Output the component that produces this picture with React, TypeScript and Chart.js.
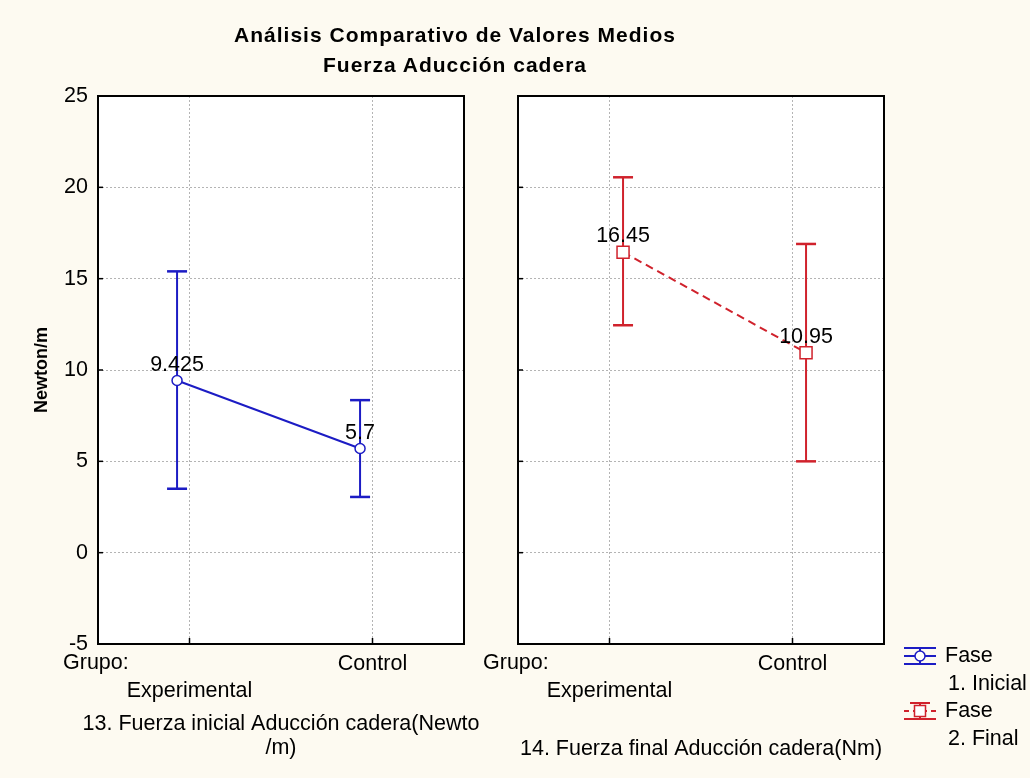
import React, { useEffect, useRef } from 'react';
import { Chart, registerables } from 'chart.js';

Chart.register(...registerables);

const FONT = '"Liberation Sans", Arial, Helvetica, sans-serif';
const FS = 21.5;
const BG = '#fdfaf1';
const BLUE = '#1c1cc4';
const RED = '#d0222c';
const GRID = '#b4b4b4';

const TITLE_LINES = ['Análisis Comparativo de Valores Medios', 'Fuerza Aducción cadera'];
const Y_TITLE = 'Newton/m';
const GROUP_PREFIX = 'Grupo:';
const GROUPS = ['Experimental', 'Control'];
const Y_TICKS = [-5, 0, 5, 10, 15, 20, 25];

const INICIAL_MEAN = [9.425, 5.7];
const INICIAL_LOW = [3.5, 3.05];
const INICIAL_HIGH = [15.4, 8.35];

const FINAL_MEAN = [16.45, 10.95];
const FINAL_LOW = [12.45, 5.0];
const FINAL_HIGH = [20.55, 16.9];

const PANEL_TITLES = [
  ['13. Fuerza inicial Aducción cadera(Newto', '/m)'],
  ['14. Fuerza final Aducción cadera(Nm)'],
];
const LEGEND_LABELS = [
  ['Fase', '1. Inicial'],
  ['Fase', '2. Final'],
];

type Panel = {
  mean: number[];
  low: number[];
  high: number[];
  color: string;
  dash: number[];
  pointStyle: string;
  pointRadius: number;
  offset: number;
  title: string[];
  showY: boolean;
  yWidth: number;
  padRight: number;
  legend: boolean;
};

const PANELS: Panel[] = [
  {
    mean: INICIAL_MEAN, low: INICIAL_LOW, high: INICIAL_HIGH, color: BLUE, dash: [],
    pointStyle: 'circle', pointRadius: 5, offset: -0.068, title: PANEL_TITLES[0],
    showY: true, yWidth: 98, padRight: 16, legend: false,
  },
  {
    mean: FINAL_MEAN, low: FINAL_LOW, high: FINAL_HIGH, color: RED, dash: [8, 5],
    pointStyle: 'rect', pointRadius: 8.5, offset: 0.074, title: PANEL_TITLES[1],
    showY: false, yWidth: 38, padRight: 146, legend: true,
  },
];

function line(ctx: CanvasRenderingContext2D, x1: number, y1: number, x2: number, y2: number) {
  ctx.beginPath();
  ctx.moveTo(x1, y1);
  ctx.lineTo(x2, y2);
  ctx.stroke();
}

function drawLegendIcon(ctx: CanvasRenderingContext2D, cx: number, cy: number, color: string, dash: number[], marker: string, topCap: number) {
  ctx.save();
  ctx.strokeStyle = color;
  ctx.lineWidth = 2;
  ctx.setLineDash([]);
  line(ctx, cx - topCap, cy - 8, cx + topCap, cy - 8);
  line(ctx, cx - 16, cy + 8, cx + 16, cy + 8);
  line(ctx, cx, cy - 8, cx, cy + 8);
  ctx.setLineDash(dash.length ? [5, 4] : []);
  line(ctx, cx - 16, cy, cx + 16, cy);
  ctx.setLineDash([]);
  ctx.fillStyle = '#fff';
  ctx.lineWidth = 1.5;
  ctx.beginPath();
  if (marker === 'circle') ctx.arc(cx, cy, 5, 0, Math.PI * 2);
  else ctx.rect(cx - 5.5, cy - 5.5, 11, 11);
  ctx.fill();
  ctx.stroke();
  ctx.restore();
}

function makeChart(canvas: HTMLCanvasElement, p: Panel) {
  const data = GROUPS.map((_, i) => ({ x: i + p.offset, y: p.mean[i] }));

  const decor = {
    id: 'panelDecor',
    beforeDraw(chart: any) {
      const { ctx, chartArea: a } = chart;
      ctx.save();
      ctx.fillStyle = '#ffffff';
      ctx.fillRect(a.left, a.top, a.right - a.left, a.bottom - a.top);
      ctx.restore();
    },
    beforeDatasetsDraw(chart: any) {
      const { ctx, scales } = chart;
      ctx.save();
      ctx.strokeStyle = p.color;
      ctx.setLineDash([]);
      data.forEach((d, i) => {
        const x = scales.x.getPixelForValue(d.x);
        const yl = scales.y.getPixelForValue(p.low[i]);
        const yh = scales.y.getPixelForValue(p.high[i]);
        ctx.lineWidth = 2;
        line(ctx, x, yl, x, yh);
        ctx.lineWidth = 2.5;
        line(ctx, x - 10, yl, x + 10, yl);
        line(ctx, x - 10, yh, x + 10, yh);
      });
      ctx.restore();
    },
    afterDraw(chart: any) {
      const { ctx, chartArea: a, scales } = chart;
      const xs = scales.x;
      const ys = scales.y;
      ctx.save();
      ctx.setLineDash([]);
      ctx.strokeStyle = '#000';
      ctx.lineWidth = 2;
      ctx.strokeRect(a.left, a.top, a.right - a.left, a.bottom - a.top);
      ctx.lineWidth = 1.5;
      ys.ticks.forEach((t: any) => {
        const y = ys.getPixelForValue(t.value);
        line(ctx, a.left, y, a.left + 5, y);
      });
      xs.ticks.forEach((t: any) => {
        const x = xs.getPixelForValue(t.value);
        line(ctx, x, a.bottom, x, a.bottom - 6);
      });

      // value labels
      ctx.fillStyle = '#000';
      ctx.font = `${FS}px ${FONT}`;
      ctx.textAlign = 'center';
      ctx.textBaseline = 'alphabetic';
      data.forEach((d, i) => {
        const x = xs.getPixelForValue(d.x);
        const y = ys.getPixelForValue(d.y);
        ctx.fillText(String(p.mean[i]), x, y - 10);
      });

      // "Grupo:" prefix
      ctx.textAlign = 'left';
      ctx.textBaseline = 'middle';
      ctx.fillText(GROUP_PREFIX, a.left - 35, a.bottom + 6 + 13.5);

      // panel title
      ctx.textAlign = 'center';
      const cx = (a.left + a.right) / 2;
      if (p.title.length > 1) {
        p.title.forEach((t, k) => ctx.fillText(t, cx, a.bottom + 80 + k * 24));
      } else {
        ctx.fillText(p.title[0], cx, a.bottom + 105);
      }

      // y title
      if (p.showY) {
        ctx.save();
        ctx.translate(42, (a.top + a.bottom) / 2);
        ctx.rotate(-Math.PI / 2);
        ctx.font = `bold 18px ${FONT}`;
        ctx.textAlign = 'center';
        ctx.textBaseline = 'middle';
        ctx.fillText(Y_TITLE, 0, 0);
        ctx.restore();
      }

      // legend
      if (p.legend) {
        const lx = a.right + 36;
        const entries = [
          { color: BLUE, dash: PANELS[0].dash, marker: PANELS[0].pointStyle, labels: LEGEND_LABELS[0], cy: 656, cap: 16 },
          { color: RED, dash: PANELS[1].dash, marker: PANELS[1].pointStyle, labels: LEGEND_LABELS[1], cy: 711, cap: 10 },
        ];
        entries.forEach((e) => {
          drawLegendIcon(ctx, lx, e.cy, e.color, e.dash, e.marker, e.cap);
          ctx.fillStyle = '#000';
          ctx.font = `${FS}px ${FONT}`;
          ctx.textAlign = 'left';
          ctx.textBaseline = 'middle';
          ctx.fillText(e.labels[0], lx + 25, e.cy);
          ctx.fillText(e.labels[1], lx + 28, e.cy + 28);
        });
      }
      ctx.restore();
    },
  };

  return new Chart(canvas, {
    type: 'line',
    data: {
      datasets: [
        {
          label: LEGEND_LABELS[p.legend ? 1 : 0].join(' '),
          data,
          borderColor: p.color,
          borderWidth: 2,
          borderDash: p.dash,
          pointStyle: p.pointStyle as any,
          pointRadius: p.pointRadius,
          pointBackgroundColor: '#ffffff',
          pointBorderColor: p.color,
          pointBorderWidth: 1.5,
          fill: false,
          tension: 0,
        },
      ],
    },
    options: {
      animation: false,
      responsive: false,
      devicePixelRatio: 1,
      layout: { padding: { top: 96, right: p.padRight, bottom: 0, left: 0 } },
      plugins: {
        legend: { display: false },
        title: { display: false },
        tooltip: { enabled: false },
      },
      scales: {
        x: {
          type: 'linear',
          min: -0.5,
          max: 1.5,
          afterBuildTicks: (s: any) => {
            s.ticks = GROUPS.map((_, i) => ({ value: i }));
          },
          afterFit: (s: any) => {
            s.height = 134;
          },
          ticks: {
            autoSkip: false,
            maxRotation: 0,
            padding: 6,
            color: '#000',
            font: { family: FONT, size: FS, lineHeight: 1.27 },
            callback: (_v: any, i: number) => (i === 0 ? ['', GROUPS[0]] : [GROUPS[i]]),
          },
          grid: { color: GRID, lineWidth: 1, drawTicks: false },
          border: { display: false, dash: [2, 2] },
        },
        y: {
          type: 'linear',
          min: -5,
          max: 25,
          afterBuildTicks: (s: any) => {
            s.ticks = Y_TICKS.map((v) => ({ value: v }));
          },
          afterFit: (s: any) => {
            s.width = p.yWidth;
          },
          ticks: {
            display: p.showY,
            padding: 10,
            color: '#000',
            font: { family: FONT, size: FS },
          },
          grid: { color: GRID, lineWidth: 1, drawTicks: false },
          border: { display: false, dash: [2, 2] },
        },
      },
    },
    plugins: [decor],
  });
}

export default function App() {
  const leftRef = useRef<HTMLCanvasElement>(null);
  const rightRef = useRef<HTMLCanvasElement>(null);

  useEffect(() => {
    if (!leftRef.current || !rightRef.current) return;
    const c1 = makeChart(leftRef.current, PANELS[0]);
    const c2 = makeChart(rightRef.current, PANELS[1]);
    return () => {
      c1.destroy();
      c2.destroy();
    };
  }, []);

  return (
    <div
      style={{
        position: 'fixed', left: 0, top: 0, width: 1030, height: 778,
        background: BG, overflow: 'hidden', fontFamily: FONT,
      }}
    >
      <canvas ref={leftRef} width={480} height={778}
        style={{ position: 'absolute', left: 0, top: 0, width: 480, height: 778 }} />
      <canvas ref={rightRef} width={550} height={778}
        style={{ position: 'absolute', left: 480, top: 0, width: 550, height: 778 }} />
      <div
        style={{
          position: 'absolute', left: 0, top: 20, width: 910, textAlign: 'center',
          fontWeight: 'bold', fontSize: 21, lineHeight: '30px', letterSpacing: 1, color: '#000',
        }}
      >
        {TITLE_LINES.map((l) => (
          <div key={l}>{l}</div>
        ))}
      </div>
    </div>
  );
}
